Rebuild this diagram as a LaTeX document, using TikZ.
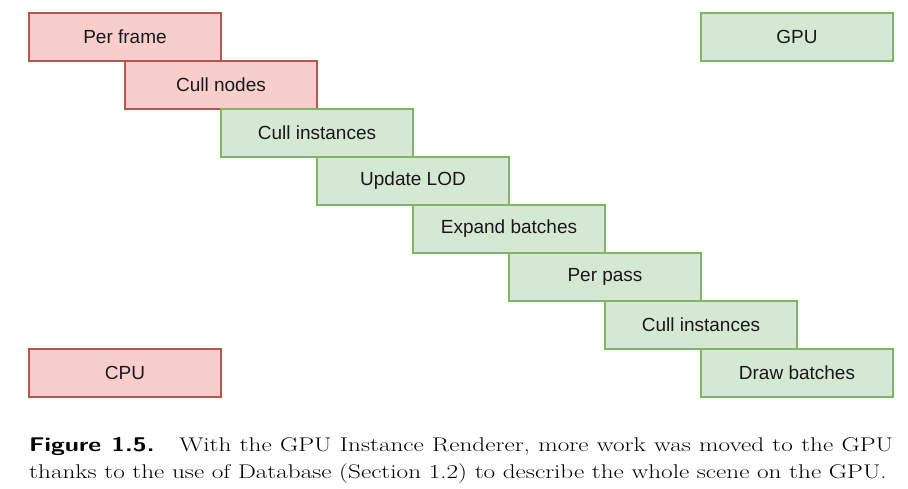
\documentclass[tikz,border=0pt]{standalone}
\usepackage{fontspec}
\newfontfamily\boxfont{Liberation Sans}
\definecolor{rfill}{HTML}{F8CECC}
\definecolor{rdraw}{HTML}{B85450}
\definecolor{gfill}{HTML}{D5E8D4}
\definecolor{gdraw}{HTML}{82B366}
\begin{document}
\begin{tikzpicture}[x=1pt,y=-1pt,
  stage/.style={minimum width=192pt,minimum height=48pt,inner sep=0pt,line width=1.2pt,
    font=\boxfont\fontsize{19}{22}\selectfont,text=black!90},
  cpustage/.style={stage,fill=rfill,draw=rdraw},
  gpustage/.style={stage,fill=gfill,draw=gdraw},
  captext/.style={anchor=base west,inner sep=0pt,font=\fontsize{19.8}{24}\selectfont}]
\useasboundingbox (0,0) rectangle (908,489);
\node[cpustage] (pf) at (125,37) {Per frame};
\node[cpustage] (cn) at (221,85) {Cull nodes};
\node[gpustage] (ci) at (317,133) {Cull instances};
\node[gpustage] (ul) at (413,181) {Update LOD};
\node[gpustage] (eb) at (509,229) {Expand batches};
\node[gpustage] (pp) at (605,277) {Per pass};
\node[gpustage] (ci2) at (701,325) {Cull instances};
\node[gpustage] (db) at (797,373) {Draw batches};
\node[gpustage] (gl) at (797,37) {GPU};
\node[cpustage] (cl) at (125,373) {CPU};
\node[captext] (c1) at (29,451) {\scalebox{1.273}[1]{\makebox[678.7pt][s]{\textsf{\bfseries Figure 1.5.}\hspace{0.5em} With the GPU Instance Renderer, more work was moved to the GPU}}};
\node[captext] (c2) at (29,478) {\scalebox{1.273}[1]{thanks to the use of Database (Section 1.2) to describe the whole scene on the GPU.}};
\end{tikzpicture}
\end{document}
